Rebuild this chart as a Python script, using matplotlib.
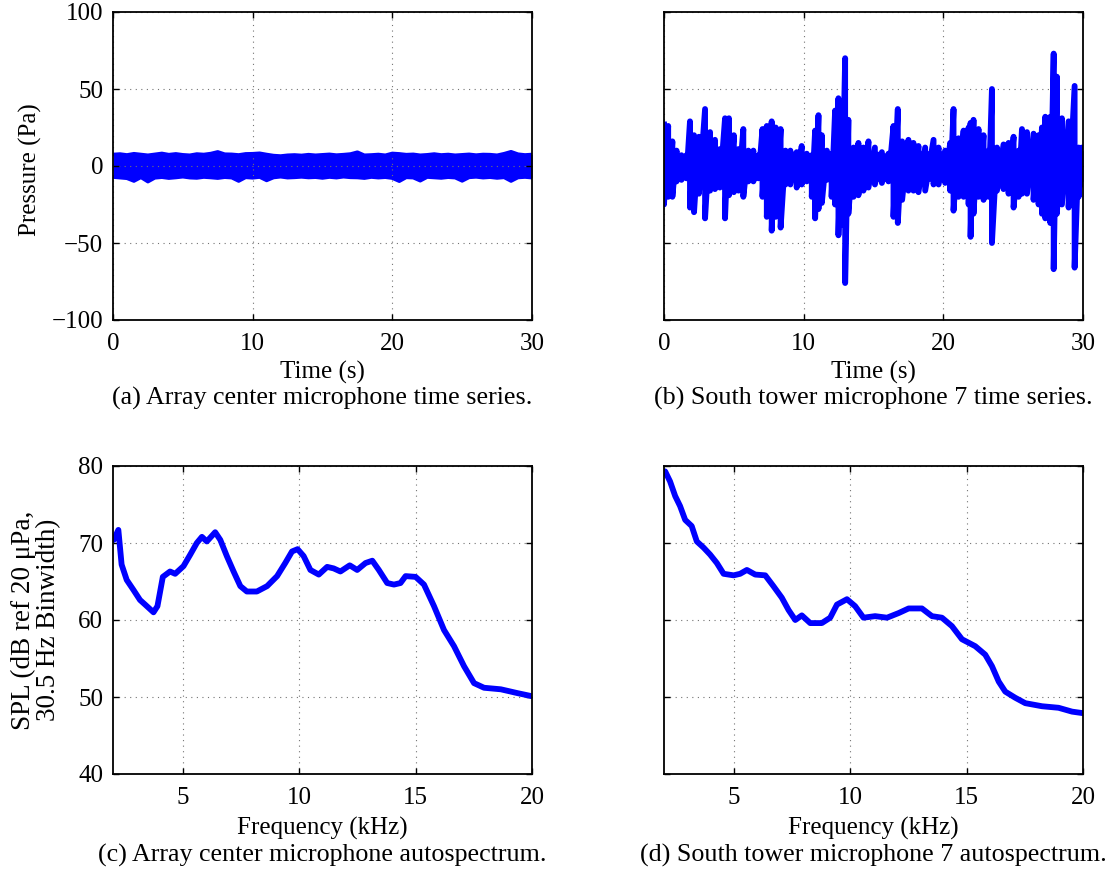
import numpy as np
import matplotlib
matplotlib.use('Agg')
import matplotlib.pyplot as plt

plt.rcParams['font.family'] = ['Liberation Serif', 'DejaVu Serif']

# (a) array center mic: upper / lower peaks of the pressure trace (Pa), 0..30 s
a_upper = [7.5, 7.8, 7.2, 8.0, 7.5, 7.0, 7.6, 8.2, 7.4, 7.9,
           7.3, 7.0, 7.8, 7.5, 8.1, 9.2, 7.7, 7.6, 7.2, 7.9,
           8.0, 8.3, 7.5, 6.8, 6.5, 7.0, 7.2, 6.9, 7.4, 7.0,
           7.3, 7.6, 7.1, 7.4, 7.8, 9.0, 7.0, 7.2, 7.5, 7.0,
           8.2, 7.9, 7.4, 7.6, 7.0, 7.3, 7.8, 7.2, 7.5, 7.0,
           7.3, 7.6, 7.1, 7.5, 7.4, 7.0, 8.0, 9.3, 7.7, 7.2,
           7.5]
a_lower = [-7.2, -7.6, -8.0, -9.8, -7.4, -10.2, -7.7, -7.3, -7.9, -7.5,
           -7.0, -7.6, -7.8, -7.2, -7.5, -7.9, -7.3, -7.6, -9.8, -7.4,
           -7.7, -7.2, -9.4, -7.5, -7.0, -7.6, -7.4, -7.1, -7.5, -7.3,
           -7.8, -7.2, -7.6, -7.0, -7.4, -7.5, -7.9, -7.2, -7.6, -7.3,
           -7.9, -9.9, -7.4, -7.6, -9.6, -7.2, -7.5, -7.8, -7.3, -7.6,
           -9.7, -7.4, -7.1, -7.6, -7.3, -7.8, -7.4, -9.8, -7.5, -7.2,
           -7.6]

# (b) south tower mic 7: time (s), upper / lower peaks (Pa)
b_time = [0.0, 0.3, 0.6, 0.9, 1.25, 1.6, 1.86, 2.15, 2.5, 2.94,
          3.3, 3.65, 4.0, 4.37, 4.65, 5.0, 5.33, 5.68, 6.04, 6.4,
          6.76, 7.05, 7.36, 7.71, 8.0, 8.35, 8.7, 9.05, 9.5, 9.86,
          10.22, 10.58, 10.82, 11.06, 11.3, 11.66, 12.0, 12.25, 12.49, 12.73,
          12.97, 13.2, 13.57, 13.92, 14.28, 14.64, 15.1, 15.6, 16.07, 16.43,
          16.74, 17.05, 17.5, 17.86, 18.22, 18.7, 19.3, 19.66, 20.13, 20.49,
          20.73, 21.09, 21.45, 21.81, 21.95, 22.16, 22.52, 22.88, 23.24, 23.48,
          23.84, 24.31, 24.67, 25.03, 25.39, 25.63, 25.99, 26.46, 26.82, 27.06,
          27.3, 27.66, 27.9, 28.13, 28.49, 28.97, 29.4, 29.69, 29.93, 30.0]
b_upper = [27, 26, 16, 10, 7, 7, 29, 20, 19, 37,
           22, 17, 11, 31, 31, 20, 11, 24, 10, 10,
           7, 24, 26, 29, 25, 24, 10, 10, 9, 13,
           8, 7, 23, 33, 20, 10, 8, 36, 44, 36,
           70, 30, 12, 15, 12, 16, 12, 9, 8, 26,
           37, 16, 17, 15, 13, 12, 17, 12, 10, 15,
           37, 18, 23, 25, 28, 30, 24, 20, 10, 50,
           12, 14, 15, 19, 10, 24, 22, 21, 20, 25,
           32, 32, 73, 58, 31, 29, 52, 12, 12, 10]
b_lower = [-25, -20, -20, -10, -9, -8, -27, -30, -18, -34,
           -16, -15, -14, -34, -19, -17, -16, -20, -10, -10,
           -8, -20, -33, -42, -33, -40, -12, -12, -14, -12,
           -10, -20, -34, -28, -24, -9, -20, -25, -45, -38,
           -76, -31, -20, -19, -16, -14, -12, -11, -10, -33,
           -37, -22, -16, -16, -17, -16, -12, -12, -11, -16,
           -29, -20, -20, -25, -46, -31, -20, -22, -20, -50,
           -16, -15, -18, -27, -20, -18, -18, -22, -25, -31,
           -34, -37, -67, -31, -25, -27, -66, -20, -12, -10]
b_core = 10  # half-height of the continuous noise band (Pa)

# (c) array center autospectrum
c_freq = [2.03, 2.23, 2.37, 2.59, 2.88, 3.16, 3.38, 3.74, 3.91, 4.14,
          4.45, 4.67, 5.03, 5.32, 5.6, 5.82, 6.03, 6.39, 6.61, 6.89,
          7.18, 7.47, 7.75, 8.18, 8.62, 9.05, 9.4, 9.69, 9.93, 10.19,
          10.48, 10.84, 11.2, 11.48, 11.77, 12.17, 12.49, 12.85, 13.14, 13.42,
          13.78, 14.07, 14.35, 14.57, 15.0, 15.36, 15.79, 16.22, 16.65, 17.08,
          17.51, 17.94, 18.66, 19.38, 20.0]
c_spl = [70.4, 71.7, 67.2, 65.2, 63.9, 62.6, 62.0, 61.0, 61.8, 65.6,
         66.3, 66.0, 67.0, 68.5, 70.0, 70.8, 70.2, 71.4, 70.4, 68.3,
         66.3, 64.4, 63.7, 63.7, 64.4, 65.7, 67.4, 68.9, 69.2, 68.3,
         66.5, 65.9, 66.9, 66.7, 66.3, 67.1, 66.5, 67.4, 67.7, 66.5,
         64.8, 64.6, 64.8, 65.7, 65.6, 64.6, 61.8, 58.7, 56.6, 54.0,
         51.8, 51.2, 51.0, 50.5, 50.1]

# (d) south tower mic 7 autospectrum
d_freq = [2.05, 2.26, 2.48, 2.69, 2.91, 3.19, 3.41, 3.7, 3.98, 4.27,
          4.56, 4.99, 5.27, 5.56, 5.92, 6.35, 6.7, 7.06, 7.35, 7.64,
          7.92, 8.28, 8.78, 9.14, 9.43, 9.86, 10.21, 10.57, 11.07, 11.58,
          12.08, 12.51, 13.08, 13.51, 13.94, 14.37, 14.8, 15.37, 15.8, 16.09,
          16.38, 16.66, 17.09, 17.52, 18.24, 18.95, 19.53, 20.0]
d_spl = [79.3, 78.0, 76.1, 74.8, 73.0, 72.2, 70.2, 69.4, 68.5, 67.4,
         66.0, 65.8, 66.0, 66.5, 65.9, 65.8, 64.4, 62.9, 61.3, 60.0,
         60.6, 59.6, 59.6, 60.3, 62.0, 62.7, 61.8, 60.3, 60.5, 60.3,
         60.9, 61.5, 61.5, 60.5, 60.3, 59.2, 57.5, 56.6, 55.5, 54.0,
         52.0, 50.7, 49.9, 49.2, 48.8, 48.6, 48.1, 47.9]

captions = ['(a) Array center microphone time series.',
            '(b) South tower microphone 7 time series.',
            '(c) Array center microphone autospectrum.',
            '(d) South tower microphone 7 autospectrum.']

W, H = 1117, 876
fig = plt.figure(figsize=(W / 100, H / 100), dpi=100)
CFS = 18.7   # captions
LFS = 18     # axis labels
TFS = 18     # tick labels
LW = 4.2


def box(x0, x1, y0, y1):
    return [x0 / W, 1 - y1 / H, (x1 - x0) / W, (y1 - y0) / H]


axes = [fig.add_axes(box(113, 532, 12, 320)),
        fig.add_axes(box(664, 1083, 12, 320)),
        fig.add_axes(box(113, 532, 466, 774)),
        fig.add_axes(box(664, 1083, 466, 774))]


def zigzag(t, hi, lo):
    x = np.repeat(np.asarray(t, float), 2)
    y = np.column_stack([hi, lo]).ravel()
    return x, y


# (a): dense noise band drawn as its envelope
ta = np.linspace(0, 30, len(a_upper))
axes[0].fill_between(ta, a_lower, a_upper, color='b', lw=0)
axes[0].plot(ta, a_upper, color='b', lw=2.5)
axes[0].plot(ta, a_lower, color='b', lw=2.5)

# (b): continuous band plus individual bursts
bt = np.asarray(b_time, float)
axes[1].fill_between(bt, np.maximum(b_lower, -b_core), np.minimum(b_upper, b_core),
                     color='b', lw=0)
axes[1].plot(*zigzag(bt, b_upper, b_lower), color='b', lw=LW, solid_joinstyle='round')

axes[2].plot(c_freq, c_spl, color='b', lw=LW, solid_capstyle='round')
axes[3].plot(d_freq, d_spl, color='b', lw=LW, solid_capstyle='round')

for i, ax in enumerate(axes):
    if i < 2:
        ax.set_xlim(0, 30)
        ax.set_ylim(-100, 100)
        ax.set_xticks([0, 10, 20, 30])
        ax.set_yticks([-100, -50, 0, 50, 100])
        xlab, ylab_y, cap_y = 'Time (s)', 372, 398
    else:
        ax.set_xlim(2, 20)
        ax.set_ylim(40, 80)
        ax.set_xticks([5, 10, 15, 20])
        ax.set_yticks([40, 50, 60, 70, 80])
        xlab, ylab_y, cap_y = 'Frequency (kHz)', 828, 855
    ax.grid(True, color='0.45', linestyle=(0, (1, 4)), linewidth=0.8)
    ax.tick_params(direction='in', length=4, width=1, top=True, right=True,
                   labelsize=TFS)
    ax.tick_params(axis='x', pad=9)
    ax.tick_params(axis='y', pad=7)
    for s in ax.spines.values():
        s.set_linewidth(1.3)
    if i % 2 == 1:
        ax.set_yticklabels([])
    bb = ax.get_position()
    xc = bb.x0 + bb.width / 2
    fig.text(xc, 1 - ylab_y / H, xlab, ha='center', va='center', fontsize=LFS)
    fig.text(xc, 1 - cap_y / H, captions[i], ha='center', va='center', fontsize=CFS)

fig.text(30 / W, 1 - 170 / H, 'Pressure (Pa)', rotation=90, ha='center', va='center', fontsize=LFS)
fig.text(36 / W, 1 - 620 / H, 'SPL (dB ref 20 μPa,\n30.5 Hz Binwidth)', rotation=90,
         ha='center', va='center', fontsize=19.5, multialignment='center', linespacing=1.05)

fig.savefig('out.png', dpi=100)
